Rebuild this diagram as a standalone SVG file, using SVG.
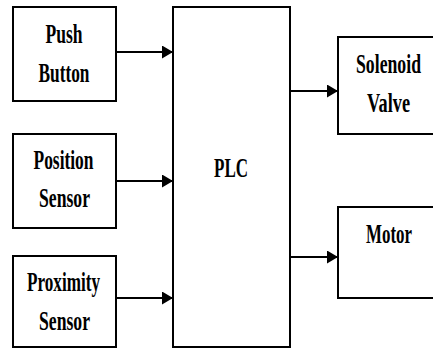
<svg xmlns="http://www.w3.org/2000/svg" width="435" height="349" viewBox="0 0 435 349">
<style>
.box{fill:#fff;stroke:#000;stroke-width:2}
.lbl{font-family:"Liberation Serif","Times New Roman",serif;font-weight:bold;font-size:18px;fill:#000;text-anchor:middle}
.conn{stroke:#000;stroke-width:2;fill:none}
</style>
<defs>
<marker id="ah" viewBox="0 0 11 13" refX="11" refY="6.5" markerWidth="11" markerHeight="13" markerUnits="userSpaceOnUse" orient="auto">
<path d="M0,0 L11,6.5 L0,13 z" fill="#000"/>
</marker>
</defs>
<rect width="435" height="349" fill="#fff"/>
<g id="push-button">
<rect class="box" x="13" y="7" width="103" height="94"/>
<text class="lbl" transform="translate(64 43) scale(1 1.5)" textLength="37" lengthAdjust="spacingAndGlyphs">Push</text>
<text class="lbl" transform="translate(64 82) scale(1 1.5)" textLength="51" lengthAdjust="spacingAndGlyphs">Button</text>
</g>
<g id="position-sensor">
<rect class="box" x="13" y="134" width="103" height="94"/>
<text class="lbl" transform="translate(63.5 169) scale(1 1.5)" textLength="60" lengthAdjust="spacingAndGlyphs">Position</text>
<text class="lbl" transform="translate(64.5 207) scale(1 1.5)" textLength="51" lengthAdjust="spacingAndGlyphs">Sensor</text>
</g>
<g id="proximity-sensor">
<rect class="box" x="13" y="256" width="103" height="91"/>
<text class="lbl" transform="translate(63.5 291) scale(1 1.5)" textLength="73" lengthAdjust="spacingAndGlyphs">Proximity</text>
<text class="lbl" transform="translate(64.5 330) scale(1 1.5)" textLength="51" lengthAdjust="spacingAndGlyphs">Sensor</text>
</g>
<g id="plc">
<rect class="box" x="173" y="7" width="117" height="340"/>
<text class="lbl" transform="translate(231 177) scale(1 1.5)" textLength="34" lengthAdjust="spacingAndGlyphs">PLC</text>
</g>
<g id="solenoid-valve">
<path class="box" d="M433,37 H338 V134 H433"/>
<text class="lbl" transform="translate(388.5 73) scale(1 1.5)" textLength="65" lengthAdjust="spacingAndGlyphs">Solenoid</text>
<text class="lbl" transform="translate(388.5 112) scale(1 1.5)" textLength="43" lengthAdjust="spacingAndGlyphs">Valve</text>
</g>
<g id="motor">
<path class="box" d="M433,207 H338 V298 H433"/>
<text class="lbl" transform="translate(389 243) scale(1 1.5)" textLength="46" lengthAdjust="spacingAndGlyphs">Motor</text>
</g>
<g id="connectors">
<line class="conn" x1="116" y1="52" x2="173" y2="52" marker-end="url(#ah)"/>
<line class="conn" x1="116" y1="181" x2="173" y2="181" marker-end="url(#ah)"/>
<line class="conn" x1="116" y1="298" x2="173" y2="298" marker-end="url(#ah)"/>
<line class="conn" x1="290" y1="91" x2="338" y2="91" marker-end="url(#ah)"/>
<line class="conn" x1="290" y1="257" x2="338" y2="257" marker-end="url(#ah)"/>
</g>
</svg>
